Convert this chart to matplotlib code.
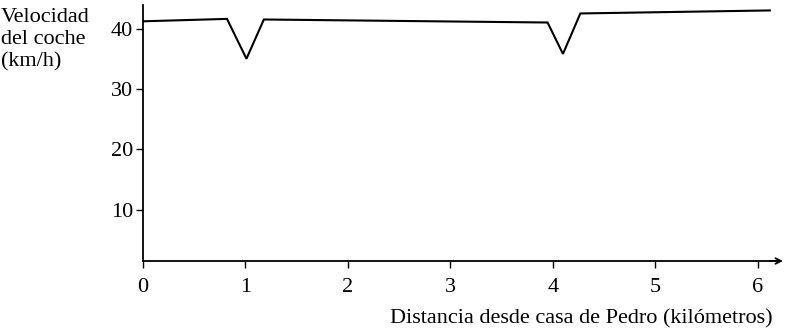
import matplotlib
matplotlib.use("Agg")
import matplotlib.pyplot as plt

# ===================== 数据 =====================
distancia = [0.0, 0.82, 1.01, 1.18, 3.95, 4.10, 4.27, 6.12]
velocidad = [41.2, 41.6, 35.0, 41.5, 41.0, 35.8, 42.5, 43.0]
x_ticks = [0, 1, 2, 3, 4, 5, 6]
y_ticks = [10, 20, 30, 40]
y_label_lines = ["Velocidad", "del coche", "(km/h)"]
x_label = "Distancia desde casa de Pedro (kilómetros)"

plt.rcParams["font.family"] = ["Liberation Serif", "DejaVu Serif"]

fig = plt.figure(figsize=(7.85, 3.35), dpi=100)
ax = fig.add_axes([143 / 785, 1 - 261 / 335, (776 - 143) / 785, (261 - 5) / 335])

ax.plot(distancia, velocidad, color="black", linewidth=1.5, solid_joinstyle="miter")

ax.set_xlim(0, 6.18)
ax.set_ylim(1.5, 43.9)
ax.set_xticks(x_ticks)
ax.set_yticks(y_ticks)
ax.tick_params(axis="both", direction="out", length=5, width=1.0,
               labelsize=16, colors="black")
ax.tick_params(axis="x", pad=7)
ax.tick_params(axis="y", pad=2)

for s in ["top", "right"]:
    ax.spines[s].set_visible(False)
for s in ["left", "bottom"]:
    ax.spines[s].set_linewidth(1.3)

# flecha al final del eje x
ax.annotate("", xy=(1.0 + 7 / 633, 0), xytext=(0.99, 0),
            xycoords="axes fraction",
            arrowprops=dict(arrowstyle="->", color="black", lw=1.3,
                            shrinkA=0, shrinkB=0),
            annotation_clip=False)

# etiquetas
for i, t in enumerate(y_label_lines):
    fig.text(1 / 785, 1 - (18 + 22 * i) / 335, t, fontsize=16,
             ha="left", va="center")
fig.text(773 / 785, 1 - 319 / 335, x_label, fontsize=16,
         ha="right", va="center")

fig.savefig("out.png", dpi=100)
